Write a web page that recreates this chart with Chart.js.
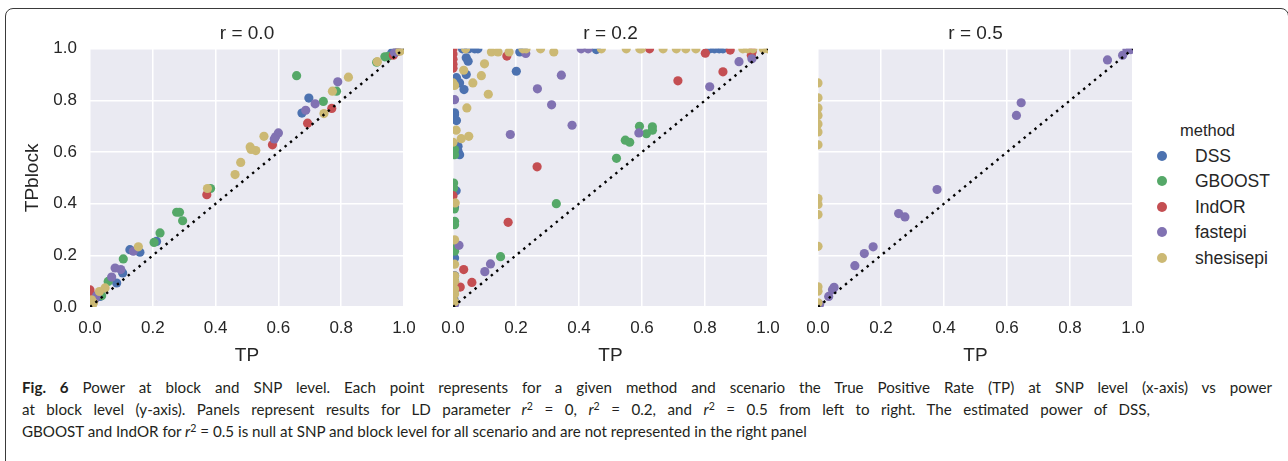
<!DOCTYPE html>
<html>
<head>
<meta charset="utf-8">
<script src="https://cdn.jsdelivr.net/npm/chart.js@4.4.0/dist/chart.umd.min.js"></script>
<style>
  body { margin: 0; width: 1288px; height: 461px; background: #fff; position: relative; overflow: hidden; }
  #frame { position: absolute; left: 5px; top: 8px; width: 1284px; height: 480px; border: 1.5px solid #3a3a3a; border-radius: 8px; box-sizing: border-box; }
  canvas { position: absolute; top: 0; }
  #legend { position: absolute; left: 0; top: 0; font-family: 'Liberation Sans', Arial, sans-serif; color: #262626; }
  .ltitle { position: absolute; font-size: 16.5px; line-height: 20px; white-space: nowrap; }
  .lrow { position: absolute; font-size: 17.5px; line-height: 20px; white-space: nowrap; }
  .ldot { position: absolute; width: 10px; height: 10px; border-radius: 50%; }
  #caption { position: absolute; left: 22px; top: 376px; font-family: Lato, 'Noto Sans', sans-serif; font-size: 16px; line-height: 22px; color: #231f20; }
  #caption span { display: block; white-space: nowrap; }
  #caption sup { font-size: 70%; line-height: 0; vertical-align: 0.5em; }
</style>
</head>
<body>
<div id="frame"></div>
<canvas id="c0" width="427" height="370" style="left:0px"></canvas>
<canvas id="c1" width="371" height="370" style="left:420px"></canvas>
<canvas id="c2" width="366" height="370" style="left:790px"></canvas>
<div id="legend"></div>
<div id="caption">
<span><b>Fig. 6</b> Power at block and SNP level. Each point represents for a given method and scenario the True Positive Rate (TP) at SNP level (x-axis) vs power</span>
<span>at block level (y-axis). Panels represent results for LD parameter <i>r</i><sup>2</sup> = 0, <i>r</i><sup>2</sup> = 0.2, and <i>r</i><sup>2</sup> = 0.5 from left to right. The estimated power of DSS,</span>
<span>GBOOST and IndOR for <i>r</i><sup>2</sup> = 0.5 is null at SNP and block level for all scenario and are not represented in the right panel</span>
</div>
<script>
// methods (hue) and panel names
var methods = ["DSS", "GBOOST", "IndOR", "fastepi", "shesisepi"];
var methodColors = ["#4C72B0", "#55A868", "#C44E52", "#8172B2", "#CCB974"];
var panelTitles = ["r = 0.0", "r = 0.2", "r = 0.5"];
var diagonal = [0, 1];

// [TP, TPblock] per method, r = 0.0
var r00_DSS = [[0.697,0.809],[0.675,0.751],[0.212,0.254],[0.127,0.222],[0.159,0.212],[0.104,0.132],[0.085,0.093],[0.032,0.041],[0.961,0.984],[0.966,0.982],[0.985,0.995]];
var r00_GBOOST = [[0.658,0.896],[0.785,0.836],[0.743,0.796],[0.384,0.459],[0.276,0.367],[0.285,0.367],[0.295,0.334],[0.223,0.287],[0.204,0.25],[0.106,0.186],[0.058,0.099],[0.037,0.044],[0.913,0.948],[0.939,0.969],[0.95,0.971],[0.975,0.988],[0.01,0.02]];
var r00_IndOR = [[0.77,0.769],[0.693,0.712],[0.581,0.628],[0.372,0.435],[0,0.066],[0,0.055],[0,0.046],[0.966,0.975],[0.98,0.99]];
var r00_fastepi = [[0.789,0.872],[0.717,0.787],[0.687,0.762],[0.6,0.674],[0.591,0.659],[0.587,0.651],[0.138,0.216],[0.08,0.151],[0.098,0.145],[0.069,0.116],[0.021,0.044],[0.015,0.03],[0.977,0.991],[0.97,0.985]];
var r00_shesisepi = [[0.823,0.89],[0.772,0.836],[0.745,0.749],[0.554,0.661],[0.51,0.62],[0.528,0.606],[0.513,0.61],[0.48,0.56],[0.462,0.513],[0.374,0.459],[0.154,0.233],[0.048,0.074],[0.03,0.06],[0.011,0.016],[0.008,0.009],[0.005,0.028],[0.915,0.95],[0.987,0.991],[0.995,1.0]];

// r = 0.2
var r02_DSS = [[0.03,1.0],[0.05,1.0],[0.069,1.0],[0.079,1.0],[0.212,0.988],[0.224,0.995],[0.455,0.997],[0.815,1.0],[0.83,1.0],[0.845,1.0],[0.857,1.0],[0.042,0.965],[0.048,0.952],[0.042,0.9],[0.011,0.888],[0.021,0.868],[0.035,0.842],[0.201,0.913],[0.005,0.752],[0.005,0.745],[0.011,0.722],[0.016,0.623],[0.016,0.603],[0.021,0.59],[0.01,0.45],[0.005,0.388],[0.005,0.19],[0.003,0.03]];
var r02_GBOOST = [[0.592,0.7],[0.633,0.698],[0.633,0.685],[0.614,0.671],[0.547,0.646],[0.561,0.638],[0.519,0.576],[0.328,0.4],[0.151,0.195],[0.005,0.61],[0.005,0.59],[0.002,0.48],[0.002,0.461],[0.004,0.38],[0.005,0.332],[0.005,0.319],[0.005,0.229],[0.005,0.216],[0.005,0.121],[0.005,0.1],[0.005,0.067]];
var r02_IndOR = [[0,1.0],[0,0.98],[0,0.96],[0,0.94],[0,0.925],[0.171,0.972],[0.624,1.0],[0.801,0.983],[0.88,0.995],[0.947,0.975],[0.95,0.99],[0.857,0.911],[0.714,0.876],[0.267,0.543],[0.175,0.328],[0.034,0.145],[0.06,0.095],[0.023,0.077],[0,0.431]];
var r02_fastepi = [[0.407,1.0],[0.429,1.0],[0.231,0.982],[0.344,0.898],[0.268,0.845],[0.005,0.803],[0.313,0.783],[0.378,0.704],[0.182,0.668],[0.59,0.674],[0.815,0.853],[0.908,0.95],[0.949,0.961],[0.019,0.239],[0.119,0.167],[0.101,0.137],[0.005,0.121],[0.005,0.01]];
var r02_shesisepi = [[0.04,1.0],[0.122,0.988],[0.143,0.988],[0.178,0.988],[0.222,1.0],[0.232,1.0],[0.278,1.0],[0.32,0.988],[0.471,1.0],[0.55,1.0],[0.593,1.0],[0.598,1.0],[0.667,1.0],[0.709,1.0],[0.739,1.0],[0.771,1.0],[0.92,1.0],[0.935,1.0],[0.952,1.0],[0.985,1.0],[1.0,1.0],[0.1,0.942],[0.034,0.917],[0.09,0.896],[0.063,0.868],[0,0.868],[0.005,0.858],[0.112,0.824],[0.044,0.771],[0.01,0.685],[0.05,0.661],[0.026,0.652],[0,0.638],[0.007,0.403],[0.005,0.26],[0.005,0.166],[0.005,0.12],[0.005,0.1],[0.005,0.07],[0.005,0.05],[0.005,0.02]];

// r = 0.5 (DSS, GBOOST, IndOR are null here)
var r05_DSS = [];
var r05_GBOOST = [];
var r05_IndOR = [];
var r05_fastepi = [[0.981,0.997],[0.992,0.997],[0.967,0.975],[0.919,0.957],[0.645,0.791],[0.63,0.742],[0.378,0.455],[0.256,0.362],[0.276,0.349],[0.175,0.233],[0.147,0.207],[0.117,0.16],[0.051,0.076],[0.046,0.067],[0.034,0.041],[0.005,0.01]];
var r05_shesisepi = [[0,0.868],[0,0.81],[0,0.771],[0,0.742],[0,0.709],[0,0.678],[0,0.628],[0,0.42],[0,0.397],[0,0.358],[0,0.235],[0,0.078],[0,0.061],[0,0.016]];

var panelData = [
    [r00_DSS, r00_GBOOST, r00_IndOR, r00_fastepi, r00_shesisepi],
    [r02_DSS, r02_GBOOST, r02_IndOR, r02_fastepi, r02_shesisepi],
    [r05_DSS, r05_GBOOST, r05_IndOR, r05_fastepi, r05_shesisepi]
];

Chart.defaults.font.family = "'Liberation Sans', Arial, sans-serif";
Chart.defaults.color = "#262626";

// grey plot background, like seaborn darkgrid
var plotBg = {
    id: "plotBg",
    beforeDraw: function (chart) {
        var a = chart.chartArea;
        var ctx = chart.ctx;
        ctx.save();
        ctx.fillStyle = "#EAEAF2";
        ctx.fillRect(a.left, a.top, a.right - a.left, a.bottom - a.top);
        ctx.restore();
    }
};

function fmt(v) { return v.toFixed(1); }

// y axis width for each panel
var yWidths = [90, 33, 28];

for (var p = 0; p < 3; p++) {
    var datasets = [];
    for (var m = 0; m < methods.length; m++) {
        datasets.push({
            label: methods[m],
            data: panelData[p][m].map(function (d) { return {x: d[0], y: d[1]}; }),
            backgroundColor: methodColors[m],
            borderColor: methodColors[m],
            pointRadius: 4.6,
            pointBorderWidth: 0,
            order: methods.length - m,
            clip: 0
        });
    }
    datasets.push({
        label: "diag",
        data: diagonal.map(function (v) { return {x: v, y: v}; }),
        showLine: true,
        borderColor: "#000",
        borderWidth: 2.4,
        borderDash: [2.4, 4.6],
        pointRadius: 0,
        order: 0
    });

    var showY = (p === 0);
    var yw = yWidths[p];
    new Chart(document.getElementById("c" + p), {
        type: "scatter",
        data: { datasets: datasets },
        options: {
            responsive: false,
            animation: false,
            layout: { padding: { left: 0, right: 23, top: 0, bottom: 0 } },
            plugins: {
                legend: { display: false },
                tooltip: { enabled: false },
                title: {
                    display: true,
                    text: panelTitles[p],
                    fullSize: false,
                    font: { size: 19, weight: "normal" },
                    color: "#262626",
                    padding: { top: 22, bottom: 4 }
                }
            },
            scales: {
                x: {
                    type: "linear", min: 0, max: 1,
                    ticks: { stepSize: 0.2, padding: 11, font: { size: 17 }, color: "#262626", callback: fmt },
                    grid: { color: "#ffffff", lineWidth: 1.5, drawTicks: false },
                    border: { display: false },
                    title: { display: true, text: "TP", font: { size: 19 }, color: "#262626", padding: { top: 0, bottom: 3 } },
                    afterFit: function (s) { s.height = 63; }
                },
                y: {
                    type: "linear", min: 0, max: 1,
                    ticks: { display: showY, stepSize: 0.2, padding: 13, font: { size: 17 }, color: "#262626", callback: fmt },
                    grid: { color: "#ffffff", lineWidth: 1.5, drawTicks: false },
                    border: { display: false },
                    title: { display: showY, text: "TPblock", font: { size: 19 }, color: "#262626", padding: { top: 21, bottom: 0 } },
                    afterFit: (function (w) { return function (s) { s.width = w; }; })(yw)
                }
            }
        },
        plugins: [plotBg]
    });
}

// legend on the right
var legend = document.getElementById("legend");
var t = document.createElement("div");
t.className = "ltitle";
t.textContent = "method";
t.style.left = "1180px";
t.style.top = "120px";
legend.appendChild(t);
for (var i = 0; i < methods.length; i++) {
    var cy = 155.5 + i * 25.5;
    var dot = document.createElement("div");
    dot.className = "ldot";
    dot.style.background = methodColors[i];
    dot.style.left = (1162 - 5) + "px";
    dot.style.top = (cy - 5) + "px";
    legend.appendChild(dot);
    var row = document.createElement("div");
    row.className = "lrow";
    row.textContent = methods[i];
    row.style.left = "1195px";
    row.style.top = (cy - 10) + "px";
    legend.appendChild(row);
}

// caption typesetting: size the font on the last line, then justify the first two
function textWidth(el) {
    var r = document.createRange();
    r.selectNodeContents(el);
    return r.getBoundingClientRect().width;
}
var caption = document.getElementById("caption");
var lines = caption.querySelectorAll("span");
var fs = 16 * 785 / textWidth(lines[2]);
fs = Math.max(14.5, Math.min(18, fs));
caption.style.fontSize = fs.toFixed(2) + "px";
var lineTargets = [1250, 1128];
for (var k = 0; k < 2; k++) {
    var spaces = lines[k].textContent.split(" ").length - 1;
    var ws = (lineTargets[k] - textWidth(lines[k])) / spaces;
    lines[k].style.wordSpacing = Math.max(0, ws).toFixed(3) + "px";
}
</script>
</body>
</html>
